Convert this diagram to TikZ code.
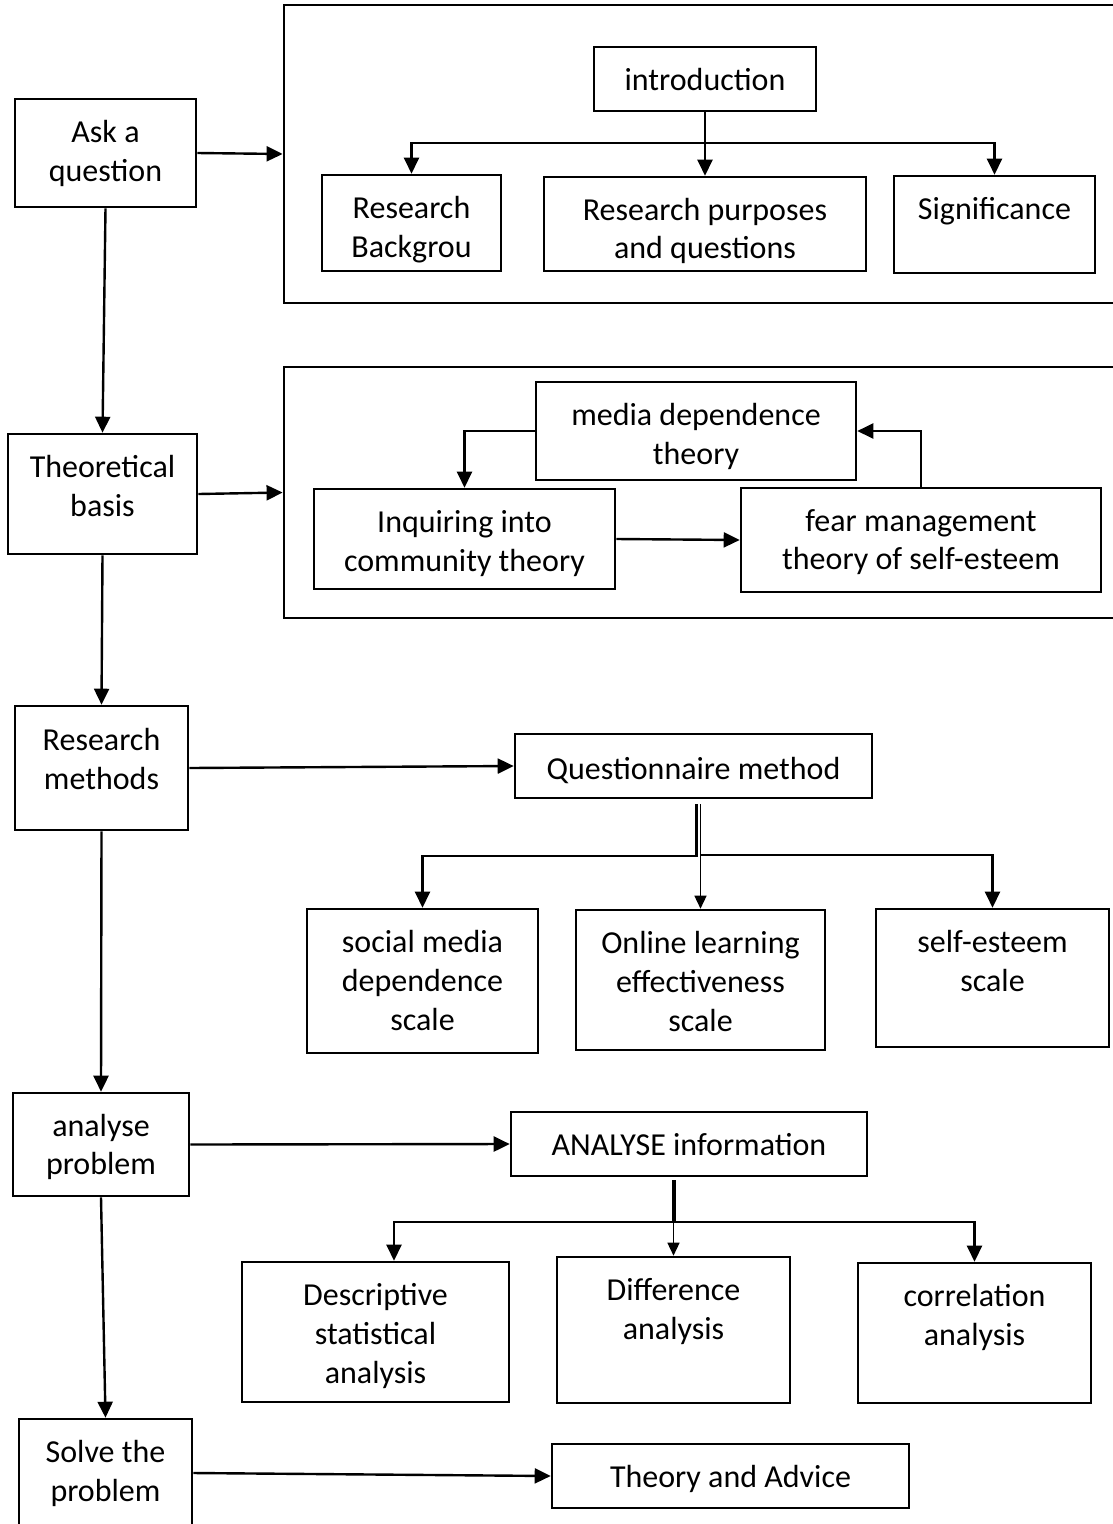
\documentclass[tikz,border=0pt]{standalone}
\usepackage{fontspec}
\setmainfont{Carlito}
\usetikzlibrary{arrows.meta, calc, positioning}
\tikzset{
  box/.style={draw, line width=2.6pt, inner sep=0pt},
  txt/.style={inner sep=0pt, align=center, font=\fontsize{32}{38.9}\selectfont, yshift=-3.5pt},
  frame/.style={draw, line width=2.8pt, inner sep=0pt},
  link/.style={line width=2.4pt, -{Triangle[length=16pt,width=15pt]}},
  thinlink/.style={line width=1.4pt, -{Triangle[length=13pt,width=12pt]}},
}
\begin{document}
\begin{tikzpicture}[x=1pt, y=-1pt]
	\useasboundingbox (0,0) rectangle (1112,1524);
	% steps on the left
	\node[box, minimum width=181, minimum height=108] (ask) at (105.5,153) {};
	\node[txt, below=13.9pt of ask.north] (askT) {\strut Ask a\\question};
	\node[box, minimum width=189, minimum height=120] (theo) at (102.5,494) {};
	\node[txt, below=13.9pt of theo.north] (theoT) {\strut Theoretical\\basis};
	\node[box, minimum width=173, minimum height=124] (rm) at (101.5,768) {};
	\node[txt, below=14.9pt of rm.north] (rmT) {\strut Research\\methods};
	\node[box, minimum width=176, minimum height=103] (ana) at (101,1144.5) {};
	\node[txt, below=13.4pt of ana.north] (anaT) {\strut analyse\\problem};
	\node[box, minimum width=173, minimum height=108] (solve) at (105.5,1473) {};
	\node[txt, below=13.9pt of solve.north] (solveT) {\strut Solve the\\problem};
	
	% introduction
	\node[frame, minimum width=834, minimum height=298] (frameA) at (701,154) {};
	\node[box, minimum width=222, minimum height=64] (intro) at (705,79) {};
	\node[txt, below=13.9pt of intro.north] (introT) {\strut introduction};
	\node[box, minimum width=179, minimum height=96] (rb) at (411.5,223) {};
	\node[txt, below=13.9pt of rb.north] (rbT) {\strut Research\\Backgrou};
	\node[box, minimum width=322, minimum height=94] (rpq) at (705,224) {};
	\node[txt, below=13.4pt of rpq.north] (rpqT) {\strut Research purposes\\and questions};
	\node[box, minimum width=201, minimum height=97] (sig) at (994.5,224.5) {};
	\node[txt, below=13.9pt of sig.north] (sigT) {\strut Significance};
	
	% theories
	\node[frame, minimum width=834, minimum height=251] (frameB) at (701,492.5) {};
	\node[box, minimum width=320, minimum height=98] (media) at (696,431) {};
	\node[txt, below=13.9pt of media.north] (mediaT) {\strut media dependence\\theory};
	\node[box, minimum width=301, minimum height=100] (inq) at (464.5,539) {};
	\node[txt, below=13.9pt of inq.north] (inqT) {\strut Inquiring into\\community theory};
	\node[box, minimum width=360, minimum height=104] (fear) at (921,540) {};
	\node[txt, below=13.4pt of fear.north] (fearT) {\strut fear management\\theory of self-esteem};
	
	% methods
	\node[box, minimum width=357, minimum height=64] (quest) at (693.5,766) {};
	\node[txt, below=15.4pt of quest.north] (questT) {\strut Questionnaire method};
	\node[box, minimum width=231, minimum height=144] (soc) at (422.5,981) {};
	\node[txt, below=13.9pt of soc.north] (socT) {\strut social media\\dependence\\scale};
	\node[box, minimum width=249, minimum height=140] (onl) at (700.5,980) {};
	\node[txt, below=13.9pt of onl.north] (onlT) {\strut Online learning\\effectiveness\\scale};
	\node[box, minimum width=233, minimum height=138] (ses) at (992.5,978) {};
	\node[txt, below=13.9pt of ses.north] (sesT) {\strut self-esteem\\scale};
	
	% analysis
	\node[box, minimum width=356, minimum height=64] (ainfo) at (689,1144) {};
	\node[txt, below=13.4pt of ainfo.north] (ainfoT) {\strut ANALYSE information};
	\node[box, minimum width=267, minimum height=140] (desc) at (375.5,1332) {};
	\node[txt, below=13.9pt of desc.north] (descT) {\strut Descriptive\\statistical\\analysis};
	\node[box, minimum width=233, minimum height=146] (diff) at (673.5,1330) {};
	\node[txt, below=13.9pt of diff.north] (diffT) {\strut Difference\\analysis};
	\node[box, minimum width=233, minimum height=140] (corr) at (974.5,1333) {};
	\node[txt, below=13.9pt of corr.north] (corrT) {\strut correlation\\analysis};
	\node[box, minimum width=357, minimum height=64] (theory) at (730.5,1476) {};
	\node[txt, below=13.9pt of theory.north] (theoryT) {\strut Theory and Advice};
	
	% main line
	\draw[link] (ask.south) -- (theo.north);
	\draw[link] (theo.south) -- (rm.north);
	\draw[link] (rm.south) -- (ana.north);
	\draw[link] (ana.south) -- (solve.north);
	\draw[link] (ask.east) -- (frameA.west);
	\draw[link] (theo.east) -- (frameB.west);
	\draw[link] (rm.east) -- (quest.west);
	\draw[link] (ana.east) -- (ainfo.west);
	\draw[link] (solve.east) -- (theory.west);
	
	\coordinate (jA) at (intro.south |- 0,143);
	\draw[link] (intro.south) -- (rpq.north);
	\draw[link] (jA) -| (rb.north);
	\draw[link] (jA) -| (sig.north);
	
	\draw[link] (media.west) -| (inq.north);
	\draw[link] (inq.east) -- (fear.west);
	\draw[link] (fear.north) |- (media.east);
	
	\coordinate (qL) at ($(quest.south)+(3,5)$);
	\coordinate (qR) at ($(quest.south)+(7,5)$);
	\draw[link] (qL) -- (qL |- 0,856) -| (soc.north);
	\draw[thinlink] (qR) -- (qR |- onl.north);
	\draw[link] (qR |- 0,855) -| (ses.north);
	
	\coordinate (aT) at ($(ainfo.south -| diff.north)+(0,3)$);
	\coordinate (jB) at (aT |- 0,1222);
	\draw[line width=4pt] (aT) -- (jB);
	\draw[thinlink] (jB) -- (diff.north);
	\draw[link] (jB) -| ($(desc.north)+(18.5,0)$);
	\draw[link] (jB) -| (corr.north);
\end{tikzpicture}
\end{document}
